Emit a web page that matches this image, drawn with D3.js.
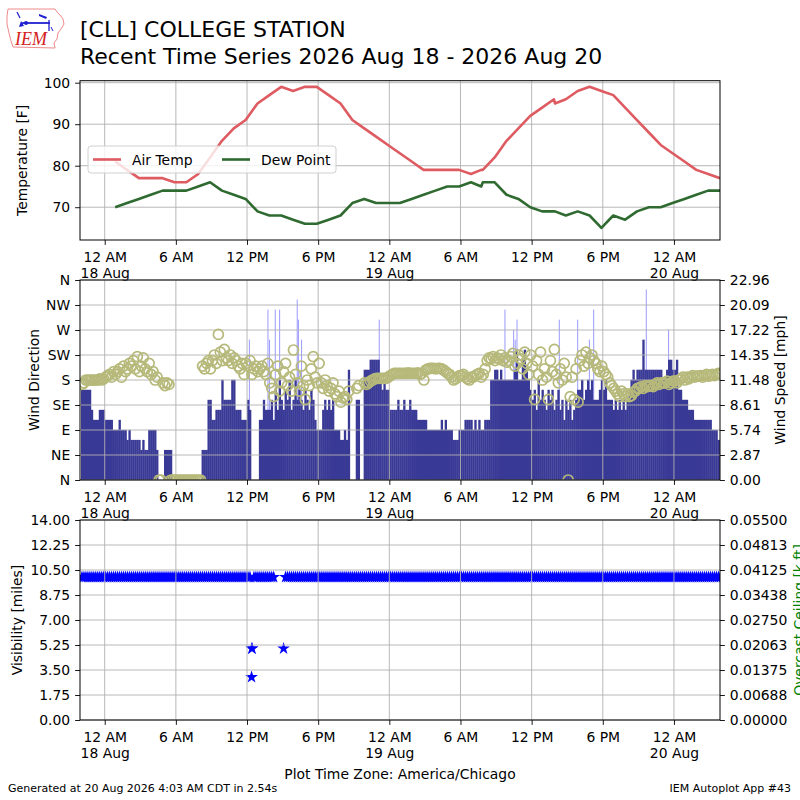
<!DOCTYPE html>
<html><head><meta charset="utf-8">
<script src="https://cdn.jsdelivr.net/npm/d3@7"></script>
<style>
body{margin:0;background:#fff}
svg text{font-family:"DejaVu Sans",sans-serif;fill:#000}
</style></head><body>
<svg id="c" width="800" height="800"></svg>
<script>
// ---------------- DATA ----------------
const titleLine1 = "[CLL] COLLEGE STATION";
const titleLine2 = "Recent Time Series 2026 Aug 18 - 2026 Aug 20";
const footerLeft = "Generated at 20 Aug 2026 4:03 AM CDT in 2.54s";
const footerRight = "IEM Autoplot App #43";
const timeZoneLabel = "Plot Time Zone: America/Chicago";
const plotStart = "17 21:55", plotEnd = "20 03:53";

// hourly METAR observations (day HH:MM, August 2026)
const obsTimes = [
 "18 00:53","18 01:53","18 02:53","18 03:53","18 04:53","18 05:53","18 06:53","18 07:53","18 08:53","18 09:53","18 10:53","18 11:53",
 "18 12:53","18 13:53","18 14:53","18 15:53","18 16:53","18 17:53","18 18:53","18 19:53","18 20:53","18 21:53","18 22:53","18 23:53",
 "19 00:53","19 01:53","19 02:53","19 03:53","19 04:53","19 05:53","19 06:53","19 07:45","19 07:53","19 08:53","19 09:53","19 10:53","19 11:53",
 "19 12:53","19 13:53","19 13:58","19 14:53","19 15:53","19 16:53","19 17:53","19 18:53","19 19:53","19 20:53","19 21:53","19 22:53","19 23:53",
 "20 00:53","20 01:53","20 02:53","20 03:53"];
const airTemp = [
 81,79,77,77,77,76,76,78,82,86,89,91,
 95,97,99,98,99,99,97,95,91,89,87,85,
 83,81,79,79,79,79,78,79,79,82,86,89,92,
 94,96,95,96,98,99,98,97,94,91,88,85,83,
 81,79,78,77];
const dewPoint = [
 70,71,72,73,74,74,74,75,76,74,73,72,
 69,68,68,67,66,66,67,68,71,72,71,71,
 71,72,73,74,75,75,76,75,76,76,73,72,70,
 69,69,69,68,69,68,65,68,67,69,70,70,71,
 72,73,74,74];

// one-minute ASOS wind summarised in 10 minute bins starting 17 Aug 22:00
const windStart = "17 22:00";
const windBinMinutes = 10;
const windSpeedKt = [
 9,9,9,9,9,7,  6,6,6,7,7,7,                       // 17th 22h-23h
 6,6,6,6,5,5,  5,6,5,5,5,4,  5,4,4,4,4,4,  3,4,3,3,5,5,  // 18th 00-03
 5,5,3,0,0,0,  3,3,3,3,0,0,  0,0,0,0,0,0,  0,0,0,0,0,0,  // 04-07
 0,3,3,3,8,8,  6,6,7,7,7,10, 8,8,8,8,10,10, 7,7,7,6,6,6,  // 08-11
 8,7,0,0,0,0,  6,6,8,7,7,7,  8,6,9,7,10,8,  7,9,8,10,7,8, // 12-15
 10,8,9,8,7,9, 8,7,9,8,6,5,  5,5,7,8,7,8,  7,8,5,5,5,4,  // 16-19
 4,5,4,11,0,0, 0,8,8,0,0,11, 11,11,12,12,12,12, 12,10,9,10,9,9, // 20-23
 7,7,7,7,8,7,  7,8,7,7,8,7,  7,7,6,6,6,6,  6,5,5,5,5,5,  // 19th 00-03
 5,5,6,5,6,5,  5,5,4,4,4,5,  5,5,6,6,6,6,  5,6,5,6,5,5,  // 04-07
 6,6,6,10,10,11, 11,10,11,10,10,10, 10,10,10,11,13,10, 10,12,13,11,10,9, // 08-11
 8,9,7,10,8,9, 8,7,9,8,9,7,  8,9,7,8,6,8,  7,8,6,7,8,9,  // 12-15
 9,10,8,9,10,9, 10,8,8,8,9,10, 9,10,8,8,8,7, 8,7,8,7,8,7, // 16-19
 8,9,10,11,10,11, 11,11,14,11,11,11, 11,11,11,11,11,11, 10,10,11,12,12,11, // 20-23
 11,12,9,9,8,8, 8,7,7,7,6,6,  6,6,6,6,6,6,  6,5,5,5,4,4   // 20th 00-03
];
const windDirDeg = [
 172,175,180,180,180,180, 180,180,180,182,180,182,
 185,188,190,185,195,190, 195,200,185,205,195,200, 210,205,215,200,222,195, 205,220,200,195,210,190,
 195,180,185,0,0,175, 170,175,172,0,0,0, 0,0,0,0,0,0, 0,0,0,0,0,0,
 0,205,200,210,215,200, 215,225,210,262,230,215, 235,220,215,225,210,220, 215,205,200,210,190,210,
 205,215,190,200,205,195, 200,205,195,190,210,175, 165,150,190,205,160,175, 195,210,170,185,160,234,
 190,175,160,205,170,145, 180,170,200,222,185,175, 210,175,165,180,170,160, 165,175,155,150,160,140,
 148,150,145,160,null,null, null,165,170,null,null,175, 172,175,178,180,182,183, 183,183,183,183,183,185,
 188,190,192,192,192,192, 192,192,192,193,192,192, 192,192,193,190,192,180, 198,200,201,201,201,200,
 201,201,200,198,195,192, 190,185,180,182,185,188, 188,190,185,182,180,185, 185,188,190,192,185,190,
 200,215,220,218,222,215, 220,218,225,215,220,212, 215,222,228,205,210,225, 218,200,230,210,190,225,
 205,145,215,190,230,180, 200,185,145,215,195,235, 190,175,200,180,210,185, 0,150,185,145,200,140,
 215,225,205,230,210,220, 225,215,210,200,195,205, 195,190,185,175,170,165, 160,155,150,160,155,150,
 155,150,152,158,160,165, 165,168,165,170,168,170, 170,168,172,175,172,175, 175,175,178,172,175,178,
 178,175,180,182,185,180, 185,182,185,188,185,187, 187,188,185,188,190,187, 188,190,188,190,192,190
];
const gustTimes = ["18 12:12","18 13:46","18 13:54","18 14:23","18 14:45","18 16:14","18 16:20","18 16:36","18 23:09",
 "19 09:45","19 10:29","19 10:37","19 10:46","19 14:20","19 15:53","19 16:52","19 17:14","19 21:40","19 23:33"];
const gustKt = [14,17,14,17,17,18,16,14,16, 17,15,14,16,16,16,14,17,19,15];

// visibility [miles] in the same 10 minute bins
const visibilityMi = [
 10,10,10,10,10,10,10,10,10,10,10,10, 10,10,10,10,10,10,10,10,10,10,10,10,
 10,10,10,10,10,10,10,10,10,10,10,10, 10,10,10,10,10,10,10,10,10,10,10,10,
 10,10,10,10,10,10,10,10,10,10,10,10, 10,10,10,10,10,10,10,10,10,10,10,10,
 10,10,10,10,10,10,10,10,10,10,10,10, 10,10,5,10,10,10,10,10,10,10,10,10,
 10,10,null,null,null,null,5,10,10,10,10,10, 10,10,10,10,10,10,10,10,10,10,10,10,
 10,10,10,10,10,10,10,10,10,10,10,10, 10,10,10,10,10,10,10,10,10,10,10,10,
 10,10,10,10,10,10,10,10,10,10,10,10, 10,10,10,10,10,10,10,10,10,10,10,10,
 10,10,10,10,10,10,10,10,10,10,10,10, 10,10,10,10,10,10,10,10,10,10,10,10,
 10,10,10,10,10,10,10,10,10,10,10,10, 10,10,10,10,10,10,10,10,10,10,10,10,
 10,10,10,10,10,10,10,10,10,10,10,10, 10,10,10,10,10,10,10,10,10,10,10,10,
 10,10,10,10,10,10,10,10,10,10,10,10, 10,10,10,10,10,10,10,10,10,10,10,10,
 10,10,10,10,10,10,10,10,10,10,10,10, 10,10,10,10,10,10,10,10,10,10,10,10,
 10,10,10,10,10,10,10,10,10,10,10,10, 10,10,10,10,10,10,10,10,10,10,10,10,
 10,10,10,10,10,10,10,10,10,10,10,10
];
const visSpecialTimes = ["18 12:23","18 12:25"];
const visSpecialMi = [3,5];

// axes
const tempTicks = [70,80,90,100];
const tempDomain = [62.1,100.48];
const dirTicks = [0,45,90,135,180,225,270,315,360];
const dirLabels = ["N","NE","E","SE","S","SW","W","NW","N"];
const speedTicks = [0,2.87,5.74,8.61,11.48,14.35,17.22,20.09,22.96];
const speedLabels = ["0.00","2.87","5.74","8.61","11.48","14.35","17.22","20.09","22.96"];
const visTicks = [0,1.75,3.5,5.25,7,8.75,10.5,12.25,14];
const visLabels = ["0.00","1.75","3.50","5.25","7.00","8.75","10.50","12.25","14.00"];
const ceilTicks = [0,0.006875,0.01375,0.020625,0.0275,0.034375,0.04125,0.048125,0.055];
const ceilLabels = ["0.00000","0.00688","0.01375","0.02063","0.02750","0.03438","0.04125","0.04813","0.05500"];
const KT_TO_MPH = 1.15078;

// ---------------- DRAW ----------------
const parseT = s => d3.timeParse("%Y-%m-%d %H:%M")("2026-08-" + s);
const svg = d3.select("#c");
const L = 80, R = 720;
const P1 = {top:80.7, bottom:240}, P2 = {top:280, bottom:480}, P3 = {top:520, bottom:720};
const FS = "13.9px";
const gridColor = "#b0b0b0";

const x = d3.scaleTime().domain([parseT(plotStart), parseT(plotEnd)]).range([L, R]);
const xTicks = x.ticks(d3.timeHour.every(6));

const yT = d3.scaleLinear().domain(tempDomain).range([P1.bottom, P1.top]);
const yDir = d3.scaleLinear().domain([0,360]).range([P2.bottom, P2.top]);
const ySpd = d3.scaleLinear().domain([0,22.96]).range([P2.bottom, P2.top]);
const yVis = d3.scaleLinear().domain([0,14]).range([P3.bottom, P3.top]);
const yCeil = d3.scaleLinear().domain([0,0.055]).range([P3.bottom, P3.top]);

const defs = svg.append("defs");
[P1,P2,P3].forEach((p,i)=>{
  defs.append("clipPath").attr("id","clip"+i).append("rect")
    .attr("x",L).attr("y",p.top).attr("width",R-L).attr("height",p.bottom-p.top);
});

function grid(p, yScale, yvals){
  const g = svg.append("g").attr("stroke",gridColor).attr("stroke-width",0.9);
  xTicks.forEach(t=>g.append("line").attr("x1",x(t)).attr("x2",x(t)).attr("y1",p.top).attr("y2",p.bottom));
  yvals.forEach(v=>g.append("line").attr("x1",L).attr("x2",R).attr("y1",yScale(v)).attr("y2",yScale(v)));
}
function frame(p){
  svg.append("rect").attr("x",L).attr("y",p.top).attr("width",R-L).attr("height",p.bottom-p.top)
    .attr("fill","none").attr("stroke","#000").attr("stroke-width",1);
}
function styleAxis(g){
  g.attr("font-size",null).attr("font-family",null);
  g.select(".domain").remove();
  g.selectAll(".tick line").attr("stroke","#000").attr("stroke-width",0.9);
  g.selectAll(".tick text").style("font-size",FS);
}
function xAxis(p){
  const g = svg.append("g").attr("transform",`translate(0,${p.bottom})`)
    .call(d3.axisBottom(x).tickValues(xTicks).tickSize(4.9).tickSizeOuter(0).tickFormat(()=>""));
  styleAxis(g);
  g.selectAll(".tick text").each(function(d){
    const t = d3.select(this).attr("dy",null).attr("y",null);
    const h = d.getHours();
    const line1 = (h%12===0?12:h%12) + " " + (h<12?"AM":"PM");
    t.append("tspan").attr("x",0).attr("y",21.5).text(line1);
    if(h===0) t.append("tspan").attr("x",0).attr("y",37.7).text(d3.timeFormat("%-d %b")(d));
  });
}
function yAxisLeft(scale, vals, labels){
  const g = svg.append("g").attr("transform",`translate(${L},0)`)
    .call(d3.axisLeft(scale).tickValues(vals).tickSize(4.9).tickPadding(4.9).tickSizeOuter(0)
      .tickFormat((d,i)=>labels[i]));
  styleAxis(g);
}
function yAxisRight(scale, vals, labels){
  const g = svg.append("g").attr("transform",`translate(${R},0)`)
    .call(d3.axisRight(scale).tickValues(vals).tickSize(4.9).tickPadding(4.9).tickSizeOuter(0)
      .tickFormat((d,i)=>labels[i]));
  styleAxis(g);
}
function yLabel(text, xb, yc, color){
  svg.append("text").attr("transform",`translate(${xb},${yc}) rotate(-90)`)
    .attr("text-anchor","middle").style("font-size",FS).style("fill",color||"#000").text(text);
}

// ---- Title & logo ----
svg.append("text").attr("x",80).attr("y",37).style("font-size","22px").text(titleLine1);
svg.append("text").attr("x",80).attr("y",64).style("font-size","22px").text(titleLine2);
const logo = svg.append("g");
logo.append("path").attr("d","M8,9 L55,9 L57,12 L60,15 L63,19 L64,24 L61,29 L58,33 L57,39 L54,43 L55,48 L13,47 L11,41 L9,33 L7,24 L7,16 Z")
  .attr("fill","none").attr("stroke","#ee8a8a").attr("stroke-width",1);
logo.append("text").attr("x",15).attr("y",44.5).style("font-family","'Liberation Serif',serif")
  .style("font-style","italic").style("font-size","18px").style("fill","#d42020").text("IEM");
logo.append("line").attr("x1",22).attr("y1",23).attr("x2",50).attr("y2",23).attr("stroke","#2020d0").attr("stroke-width",1.8);
logo.append("line").attr("x1",17).attr("y1",12).attr("x2",20).attr("y2",18).attr("stroke","#2020d0").attr("stroke-width",1.3);
logo.append("path").attr("d","M19,27 L21,21 L24,26 Z").attr("fill","#2020d0");
logo.append("circle").attr("cx",26).attr("cy",23).attr("r",2).attr("fill","#2020d0");
logo.append("path").attr("d","M39,14 L47,17 L46,19 L39,16 Z").attr("fill","#2020d0");
logo.append("line").attr("x1",49).attr("y1",20).attr("x2",49).attr("y2",31).attr("stroke","#2020d0").attr("stroke-width",1.3);
logo.append("line").attr("x1",51).attr("y1",27).attr("x2",53).attr("y2",31).attr("stroke","#2020d0").attr("stroke-width",1);

// ---- Panel 1: temperatures ----
grid(P1, yT, tempTicks);
const obs = obsTimes.map((s,i)=>({t:parseT(s), tmp:airTemp[i], dwp:dewPoint[i]}));
const p1 = svg.append("g").attr("clip-path","url(#clip0)");
p1.append("path").datum(obs).attr("fill","none").attr("stroke","#dd5b61").attr("stroke-width",2.6)
  .attr("stroke-linejoin","round").attr("d",d3.line().x(d=>x(d.t)).y(d=>yT(d.tmp)));
p1.append("path").datum(obs).attr("fill","none").attr("stroke","#2f6a31").attr("stroke-width",2.6)
  .attr("stroke-linejoin","round").attr("d",d3.line().x(d=>x(d.t)).y(d=>yT(d.dwp)));
frame(P1);
xAxis(P1);
yAxisLeft(yT, tempTicks, tempTicks.map(String));
yLabel("Temperature [F]", 26.5, (P1.top+P1.bottom)/2);
// legend
const lg = svg.append("g");
lg.append("rect").attr("x",88).attr("y",146).attr("width",248).attr("height",27).attr("rx",3)
  .attr("fill","#fff").attr("fill-opacity",0.8).attr("stroke","#d0d0d0");
lg.append("line").attr("x1",93).attr("x2",121).attr("y1",159.5).attr("y2",159.5).attr("stroke","#dd5b61").attr("stroke-width",2.6);
lg.append("text").attr("x",132).attr("y",164.5).style("font-size",FS).text("Air Temp");
lg.append("line").attr("x1",222).attr("x2",250).attr("y1",159.5).attr("y2",159.5).attr("stroke","#2f6a31").attr("stroke-width",2.6);
lg.append("text").attr("x",261).attr("y",164.5).style("font-size",FS).text("Dew Point");

// ---- Panel 2: wind ----
const t0 = parseT(windStart);
const wind = windSpeedKt.map((k,i)=>({
  t0: d3.timeMinute.offset(t0, i*windBinMinutes),
  t1: d3.timeMinute.offset(t0, (i+1)*windBinMinutes),
  tc: d3.timeMinute.offset(t0, i*windBinMinutes + windBinMinutes/2),
  mph: k*KT_TO_MPH, dir: windDirDeg[i]}));
const gusts = gustTimes.map((s,i)=>({t:parseT(s), mph:gustKt[i]*KT_TO_MPH}));
const p2 = svg.append("g").attr("clip-path","url(#clip1)");
p2.selectAll("line.g").data(gusts).join("line").attr("class","g")
  .attr("x1",d=>x(d.t)).attr("x2",d=>x(d.t)).attr("y1",ySpd(0)).attr("y2",d=>ySpd(d.mph))
  .attr("stroke","#9a9aff").attr("stroke-width",1);
p2.selectAll("rect.w").data(wind.filter(d=>d.mph>0)).join("rect").attr("class","w")
  .attr("x",d=>x(d.t0)).attr("width",d=>x(d.t1)-x(d.t0)+0.35)
  .attr("y",d=>ySpd(d.mph)).attr("height",d=>ySpd(0)-ySpd(d.mph)).attr("fill","#393996");
grid(P2, yDir, dirTicks);
const p2b = svg.append("g").attr("clip-path","url(#clip1)");
p2b.selectAll("circle").data(wind.filter(d=>d.dir!==null)).join("circle")
  .attr("cx",d=>x(d.tc)).attr("cy",d=>yDir(d.dir)).attr("r",5)
  .attr("fill","none").attr("stroke","#b6b97a").attr("stroke-width",1.7);
frame(P2);
xAxis(P2);
yAxisLeft(yDir, dirTicks, dirLabels);
yAxisRight(ySpd, speedTicks, speedLabels);
yLabel("Wind Direction", 39, (P2.top+P2.bottom)/2);
yLabel("Wind Speed [mph]", 785, (P2.top+P2.bottom)/2);

// ---- Panel 3: visibility ----
const vis = visibilityMi.map((v,i)=>({t:d3.timeMinute.offset(t0, i*windBinMinutes + windBinMinutes/2), v}))
  .filter(d=>d.v!==null)
  .concat(visSpecialTimes.map((s,i)=>({t:parseT(s), v:visSpecialMi[i]})));
const p3 = svg.append("g").attr("clip-path","url(#clip2)");
const star = d3.symbol(d3.symbolStar, 50);
p3.selectAll("path").data(vis).join("path")
  .attr("transform",d=>`translate(${x(d.t)},${yVis(d.v)})`).attr("d",star).attr("fill","#0000ff");
grid(P3, yVis, visTicks);
frame(P3);
xAxis(P3);
yAxisLeft(yVis, visTicks, visLabels);
yAxisRight(yCeil, ceilTicks, ceilLabels);
yLabel("Visibility [miles]", 22, (P3.top+P3.bottom)/2);
yLabel("Overcast Ceiling [k ft]", 803.5, (P3.top+P3.bottom)/2, "#008000");

// ---- footer ----
svg.append("text").attr("x",400).attr("y",779).attr("text-anchor","middle").style("font-size",FS).text(timeZoneLabel);
svg.append("text").attr("x",8).attr("y",792).style("font-size","11px").text(footerLeft);
svg.append("text").attr("x",791).attr("y",792).attr("text-anchor","end").style("font-size","11px").text(footerRight);
</script></body></html>
